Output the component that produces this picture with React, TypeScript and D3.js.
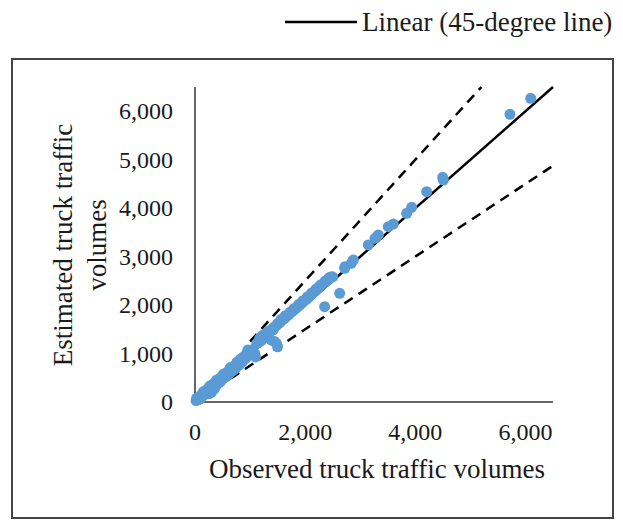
import React from "react";
import * as d3 from "d3";

// Observed vs. estimated truck traffic volumes, one entry per site
const observed = [
  20, 40, 60, 80, 100, 120, 140, 160, 180, 200, 220, 240, 250, 260, 280, 300, 300, 320, 340, 350,
  360, 380, 400, 420, 440, 460, 480, 500, 530, 560, 590, 620, 650, 680, 710, 740, 770, 800, 830, 860,
  890, 920, 950, 962, 980, 1010, 1040, 1083, 1100, 1150, 1174, 1200, 1250, 1300, 1330, 1380, 1380, 1420,
  1440, 1460, 1477, 1500, 1500, 1540, 1580, 1620, 1660, 1700, 1740, 1780, 1820, 1860, 1900, 1940, 1980,
  2020, 2060, 2100, 2140, 2180, 2220, 2260, 2300, 2340, 2354, 2380, 2415, 2420, 2460, 2481, 2500,
  2627, 2717, 2723, 2838, 2875, 3147, 3268, 3328, 3510, 3600, 3843, 3934, 4206, 4497, 4510, 5719, 6095,
  30, 90, 150, 210, 270, 330, 390, 450, 520, 580, 640, 700, 760, 820, 880, 940, 1120, 1220, 1280,
  1350, 1420, 1560, 1640, 1720, 1800, 1880, 1960, 2040, 2120, 2200, 2280, 2360, 2440,
];
const estimated = [
  30, 60, 50, 110, 90, 150, 120, 190, 160, 240, 200, 280, 170, 230, 320, 250, 200, 360, 300, 270,
  400, 340, 450, 390, 480, 420, 520, 470, 560, 520, 620, 580, 680, 640, 740, 700, 800, 760, 880, 830,
  930, 900, 1000, 1073, 960, 1060, 1080, 1004, 930, 1230, 1314, 1260, 1330, 1380, 1440, 1480, 1280, 1530,
  1250, 1560, 1211, 1620, 1140, 1640, 1690, 1720, 1770, 1800, 1850, 1880, 1920, 1960, 2000, 2040, 2080,
  2120, 2160, 2200, 2250, 2300, 2340, 2380, 2420, 2460, 1967, 2500, 2517, 2540, 2560, 2585, 2580,
  2243, 2758, 2792, 2862, 2930, 3240, 3378, 3446, 3617, 3673, 3893, 4017, 4340, 4637, 4580, 5936, 6267,
  80, 60, 210, 180, 330, 290, 450, 410, 580, 540, 710, 660, 820, 880, 930, 1010, 1200, 1370, 1400,
  1470, 1490, 1700, 1780, 1850, 1930, 2010, 2090, 2170, 2250, 2330, 2410, 2490, 2570,
];

const xTicks = [0, 2000, 4000, 6000];
const yTicks = [0, 1000, 2000, 3000, 4000, 5000, 6000];
const axisMax = 6500;

// Reference lines: 45-degree line and the +/-25% bounds
const perfectLine = [0, 6500];
const upperBoundX = [1000, 5200];
const lowerBoundX = [650, 6500];
const upperRatio = 1.25;
const lowerRatio = 0.75;

const W = 623;
const H = 521;
const plot = { left: 195, right: 553, top: 87, bottom: 402 };
const serif = '"Liberation Serif", "Times New Roman", serif';
const textColor = "#1a1a1a";
const pointColor = "#5B9BD5";

export default function App() {
  const x = d3.scaleLinear().domain([0, axisMax]).range([plot.left, plot.right]);
  const y = d3.scaleLinear().domain([0, axisMax]).range([plot.bottom, plot.top]);
  const fmt = d3.format(",");
  const line = d3
    .line<[number, number]>()
    .x((d) => x(d[0]))
    .y((d) => y(d[1]));

  const solid = line(perfectLine.map((v) => [v, v] as [number, number]));
  const upper = line(upperBoundX.map((v) => [v, v * upperRatio] as [number, number]));
  const lower = line(lowerBoundX.map((v) => [v, v * lowerRatio] as [number, number]));

  return (
    <svg
      width={W}
      height={H}
      style={{ position: "absolute", left: 0, top: 0, background: "#fff" }}
      fontFamily={serif}
    >
      <rect x={0} y={0} width={W} height={H} fill="#fff" />
      {/* legend */}
      <line x1={285} x2={357} y1={22} y2={22} stroke="#000" strokeWidth={2.5} />
      <text x={362} y={31} fontSize={27} fill={textColor}>
        Linear (45-degree line)
      </text>

      {/* chart frame */}
      <rect x={12} y={59} width={601} height={459} fill="none" stroke="#444" strokeWidth={2} />

      {/* axes */}
      <line x1={plot.left} x2={plot.left} y1={plot.top} y2={plot.bottom} stroke="#333" strokeWidth={1.5} />
      <line x1={plot.left} x2={plot.right} y1={plot.bottom} y2={plot.bottom} stroke="#333" strokeWidth={1.5} />

      {yTicks.map((t) => (
        <text
          key={"y" + t}
          x={173}
          y={y(t)}
          fontSize={24}
          textAnchor="end"
          dominantBaseline="central"
          fill={textColor}
        >
          {fmt(t)}
        </text>
      ))}
      {xTicks.map((t) => (
        <text key={"x" + t} x={x(t)} y={440} fontSize={24} textAnchor="middle" fill={textColor}>
          {fmt(t)}
        </text>
      ))}

      {/* axis titles */}
      <text x={377} y={478} fontSize={27} textAnchor="middle" fill={textColor}>
        Observed truck traffic volumes
      </text>
      <g transform="translate(72,245) rotate(-90)">
        <text x={0} y={0} fontSize={27} textAnchor="middle" fill={textColor}>
          Estimated truck traffic
        </text>
        <text x={0} y={34} fontSize={27} textAnchor="middle" fill={textColor}>
          volumes
        </text>
      </g>

      {/* reference lines */}
      <path d={upper ?? ""} fill="none" stroke="#000" strokeWidth={2.5} strokeDasharray="10,7" />
      <path d={lower ?? ""} fill="none" stroke="#000" strokeWidth={2.5} strokeDasharray="10,7" />
      <path d={solid ?? ""} fill="none" stroke="#000" strokeWidth={2.5} />

      {/* points, drawn over the lines */}
      {observed.map((v, i) => (
        <circle key={i} cx={x(v)} cy={y(estimated[i])} r={5.5} fill={pointColor} />
      ))}
    </svg>
  );
}
